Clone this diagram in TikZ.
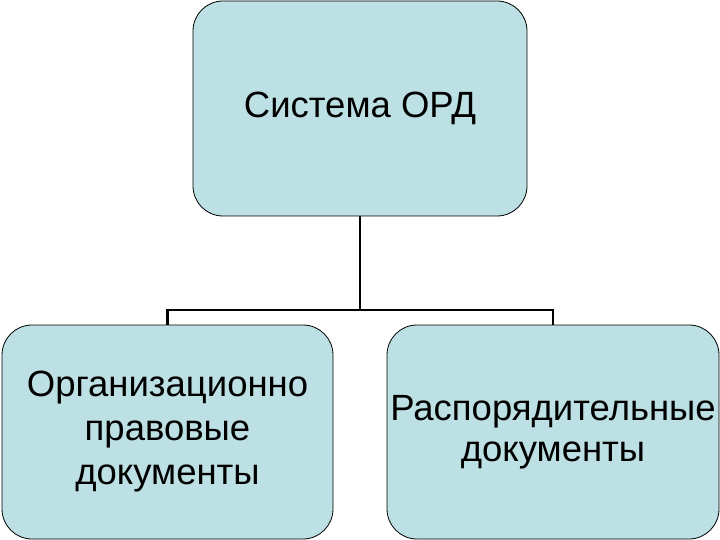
\documentclass[tikz,border=0pt]{standalone}
\usepackage{fontspec}
\setmainfont{Liberation Sans}
\usepackage{xcolor}
\usetikzlibrary{positioning,calc}
\definecolor{ordfill}{RGB}{188,224,227}
\tikzset{
 ordbox/.style = {rectangle,rounded corners=30pt,draw=black,line width=0.8pt,
   fill=ordfill,align=center,inner sep=0pt,
   font=\fontsize{36.5}{44}\selectfont},
 connector/.style = {draw=black,line width=2.8pt}
 }
\begin{document}
\begin{tikzpicture}[x=1pt,y=-1pt]
      \useasboundingbox (0,0) rectangle (720,540);
      \node[ordbox,minimum width=334pt,minimum height=215pt] (ord) at (360,108.5) {Система ОРД};
      \node[ordbox,minimum width=331pt,minimum height=214pt] (org) at (167.5,432) {Организационно\\правовые\\документы};
      \node[ordbox,minimum width=332pt,minimum height=214pt,
            font=\fontsize{36.5}{41}\selectfont] (rasp) at (553,432) {Распорядительные\\документы};
      \coordinate (fork) at (360,310);
      \draw[connector] (ord.south) -- (fork) -| (org.north);
      \draw[connector] (fork) -| (rasp.north);
    \end{tikzpicture}
\end{document}
